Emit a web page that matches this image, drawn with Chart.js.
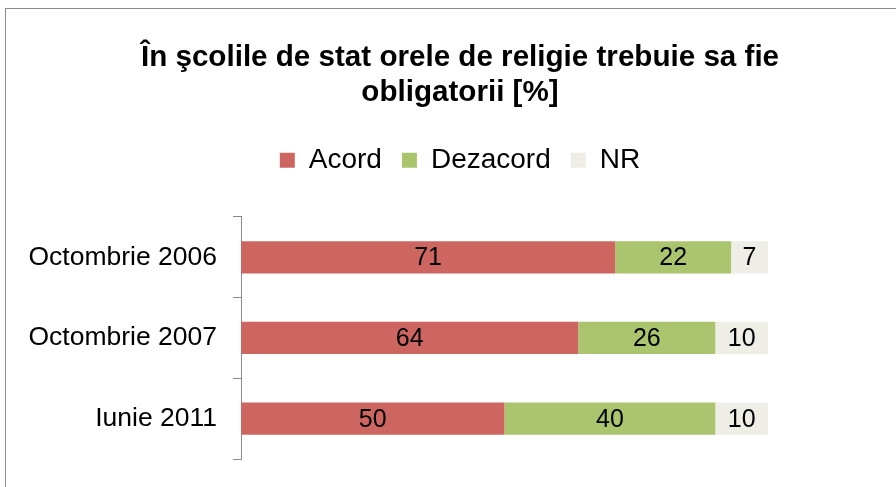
<!DOCTYPE html>
<html>
<head>
<meta charset="utf-8">
<script src="https://cdn.jsdelivr.net/npm/chart.js@4/dist/chart.umd.min.js"></script>
<style>
html,body{margin:0;padding:0;background:#fff;overflow:hidden;width:896px;height:487px;}
canvas{display:block;}
</style>
</head>
<body>
<canvas id="c" width="920" height="487"></canvas>
<script>
const categories = ['Octombrie 2006', 'Octombrie 2007', 'Iunie 2011'];
const seriesNames = ['Acord', 'Dezacord', 'NR'];
const acord = [71, 64, 50];
const dezacord = [22, 26, 40];
const nr = [7, 10, 10];
const titleLines = ['În şcolile de stat orele de religie trebuie sa fie', 'obligatorii [%]'];

const FONT = "'Liberation Sans', Arial, sans-serif";
Chart.defaults.font.family = FONT;
Chart.defaults.color = '#000';

const framePlugin = {
  id: 'frame',
  beforeDraw(chart) {
    const ctx = chart.ctx;
    ctx.save();
    ctx.fillStyle = '#fff';
    ctx.fillRect(0, 0, chart.width, chart.height);
    ctx.strokeStyle = '#8a8a8a';
    ctx.lineWidth = 1;
    ctx.strokeRect(5.5, 8.5, 1000, 1000);
    ctx.restore();
  }
};

const labelPlugin = {
  id: 'barLabels',
  afterDatasetsDraw(chart) {
    const ctx = chart.ctx;
    ctx.save();
    ctx.font = '25px ' + FONT;
    ctx.fillStyle = '#000';
    ctx.textAlign = 'center';
    ctx.textBaseline = 'middle';
    chart.data.datasets.forEach((ds, di) => {
      const meta = chart.getDatasetMeta(di);
      meta.data.forEach((el, i) => {
        const cx = (el.x + el.base) / 2;
        ctx.fillText(String(ds.data[i]), cx, el.y + 1);
      });
    });
    ctx.restore();
  }
};

new Chart(document.getElementById('c'), {
  type: 'bar',
  data: {
    labels: categories,
    datasets: [
      { label: seriesNames[0], data: acord, backgroundColor: '#CD6661' },
      { label: seriesNames[1], data: dezacord, backgroundColor: '#ABC56F' },
      { label: seriesNames[2], data: nr, backgroundColor: '#EEEEE6' }
    ]
  },
  options: {
    indexAxis: 'y',
    responsive: false,
    animation: false,
    devicePixelRatio: 1,
    categoryPercentage: 1,
    barPercentage: 0.4,
    layout: { padding: { left: 0, right: 0, top: 0, bottom: 28 } },
    plugins: {
      tooltip: { enabled: false },
      title: {
        display: true,
        text: titleLines,
        color: '#000',
        font: { size: 29.6, weight: 'bold', lineHeight: 1.18 },
        padding: { top: 40.5, bottom: 16 }
      },
      legend: {
        display: true,
        position: 'top',
        labels: {
          color: '#000',
          font: { size: 28 },
          boxWidth: 15,
          boxHeight: 15,
          padding: 20
        }
      }
    },
    scales: {
      x: {
        stacked: true,
        position: 'top',
        min: 0,
        max: 100,
        grid: { display: false },
        border: { display: false },
        ticks: { display: false },
        afterFit(s) { s.height = 32.6; }
      },
      y: {
        stacked: true,
        afterFit(s) { s.width = 241; s.paddingTop = 0; s.paddingBottom = 0; },
        border: { display: true, color: '#8a8a8a', width: 1 },
        grid: {
          display: true,
          drawOnChartArea: false,
          drawTicks: true,
          tickLength: 8,
          color: '#8a8a8a',
          offset: true
        },
        ticks: {
          color: '#000',
          font: { size: 26.5 },
          padding: 16
        }
      },
      ySpace: {
        type: 'linear',
        position: 'right',
        display: true,
        grid: { display: false },
        border: { display: false },
        ticks: { display: false },
        afterFit(s) { s.width = 152; s.paddingTop = 0; s.paddingBottom = 0; }
      }
    }
  },
  plugins: [framePlugin, labelPlugin]
});
</script>
</body>
</html>
